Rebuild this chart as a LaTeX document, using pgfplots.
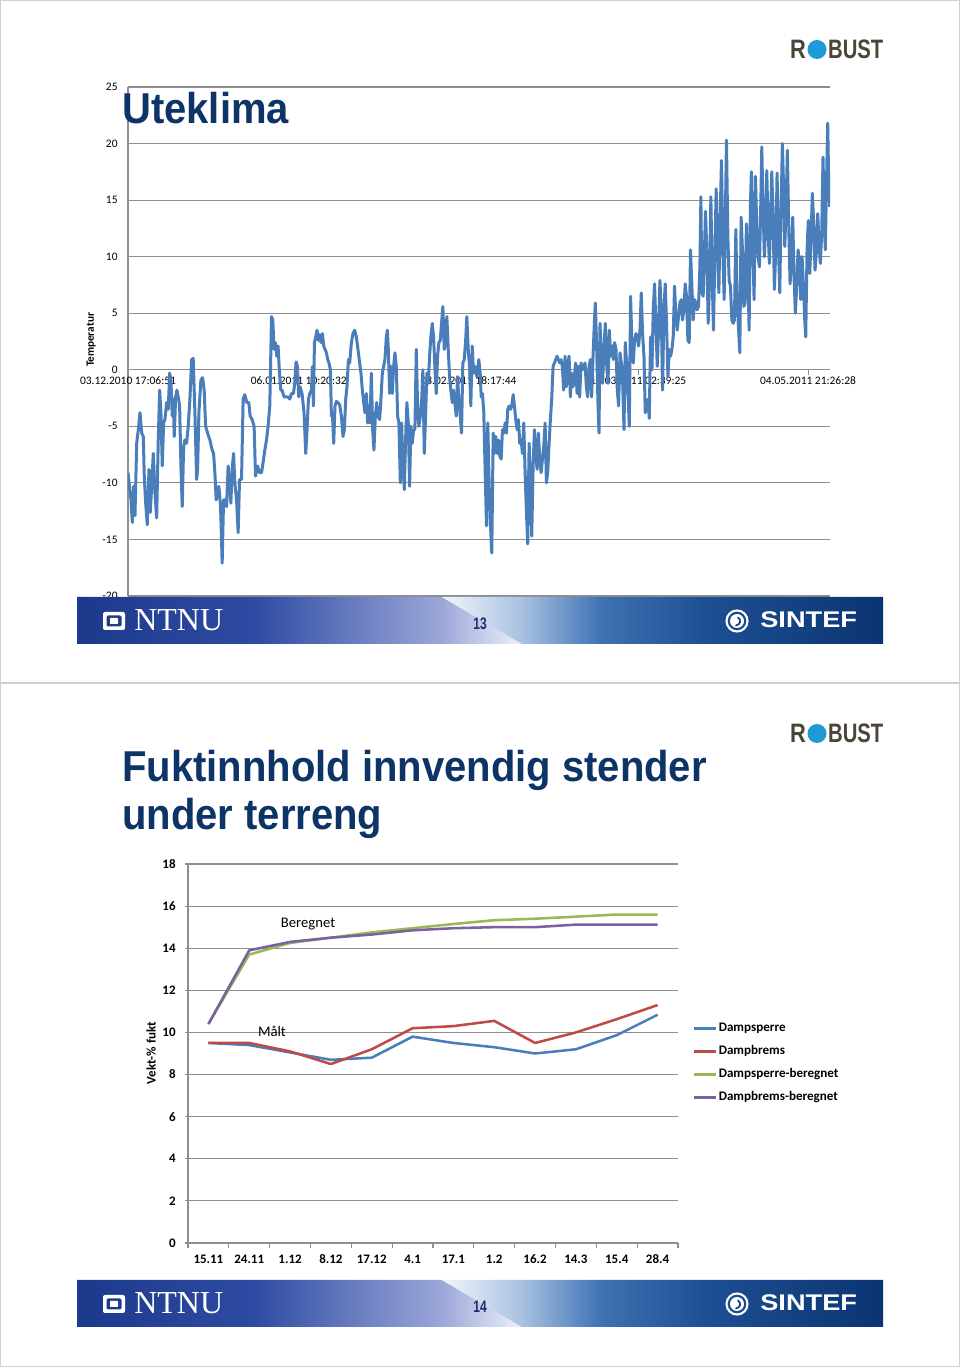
\documentclass[border=0pt]{standalone}
\usepackage{fontspec}
\setmainfont{Carlito}
\newfontfamily\arialf{Liberation Sans}
\newfontfamily\seriff{Liberation Serif}
\usepackage{pgfplots}
\usepackage{pgfplotstable}
\pgfplotsset{compat=1.18}

\definecolor{titleblue}{HTML}{0C3466}
\definecolor{axgray}{HTML}{8E8E8E}
\definecolor{serblue}{HTML}{4A7EBB}
\definecolor{serred}{HTML}{BE4B48}
\definecolor{sergreen}{HTML}{98B954}
\definecolor{serpurple}{HTML}{7D60A0}
\definecolor{robustgray}{HTML}{4A4538}
\definecolor{robustblue}{HTML}{1E9BD7}
\definecolor{numnavy}{HTML}{1B2D6B}
\definecolor{ntnuicon}{HTML}{1F3C8C}
\definecolor{sintefnavy}{HTML}{123C7C}
\definecolor{slideborder}{HTML}{D0D0D0}
\definecolor{Lone}{HTML}{1C3A8C}
\definecolor{Ltwo}{HTML}{2E4BA3}
\definecolor{Lthree}{HTML}{9CA7D9}
\definecolor{Lfour}{HTML}{EEF1FA}
\definecolor{Rzero}{HTML}{F2F6FC}
\definecolor{Rone}{HTML}{A8C2E2}
\definecolor{Rtwo}{HTML}{3F72B3}
\definecolor{Rthree}{HTML}{1D4F93}
\definecolor{Rfour}{HTML}{0B3472}

\pgfdeclarehorizontalshading{ntnuleft}{100bp}{color(0bp)=(Lone); color(25bp)=(Lone); color(45bp)=(Ltwo); color(66bp)=(Lthree); color(75bp)=(Lfour); color(100bp)=(Lfour)}
\pgfdeclarehorizontalshading{ntnuright}{100bp}{color(0bp)=(Rzero); color(25bp)=(Rzero); color(34bp)=(Rone); color(43bp)=(Rtwo); color(55bp)=(Rthree); color(75bp)=(Rfour); color(100bp)=(Rfour)}

\newcommand{\footerband}[2]{%
\begin{scope}[shift={(0,#1)}]
\shade[shading=ntnuleft] (77,0) -- (442,0) -- (522,-47) -- (77,-47) -- cycle;
\shade[shading=ntnuright] (442,0) -- (883,0) -- (883,-47) -- (522,-47) -- cycle;
\fill[white, rounded corners=1.5pt] (103,-15) rectangle (125,-33);
\fill[ntnuicon, rounded corners=1pt] (106.5,-18.5) rectangle (121.5,-29.5);
\fill[white, rounded corners=0.5pt] (110,-21) rectangle (118,-27);
\node[anchor=base west, inner sep=0, text=white, font=\seriff\fontsize{24}{24}\selectfont] at (134,-34) {NTNU};
\node[inner sep=0, text=numnavy, font=\arialf\bfseries\fontsize{12.5}{12.5}\selectfont, xscale=0.72] at (480,-27) {#2};
\draw[white, line width=1.6pt] (737,-24) circle (10.5);
\fill[white] (737,-24) circle (7);
\draw[sintefnavy, line width=1.3pt, line cap=round] (738,-20.5) .. controls (741.5,-23) and (740.5,-27.5) .. (736,-28.5);
\node[anchor=base west, inner sep=0, text=white, font=\arialf\bfseries\fontsize{17}{17}\selectfont, xscale=1.2] at (760,-31) {SINTEF};
\end{scope}}

\newcommand{\robustlogo}[1]{%
\begin{scope}[shift={(0,#1)}]
\node[anchor=base west, inner sep=0, text=robustgray, font=\arialf\bfseries\fontsize{20}{20}\selectfont, xscale=0.82] at (790,0) {R};
\fill[robustblue] (817,9.5) circle (9.5);
\node[anchor=base west, inner sep=0, text=robustgray, font=\arialf\bfseries\fontsize{20}{20}\selectfont, xscale=0.76] at (828,0) {BUST};
\end{scope}}

\pgfplotstableread{
x y
0 -9.1
3.0 -11.5
4.3 -13.5
5.7 -10.3
7.0 -12.9
8.7 -6.5
10.3 -5.3
12.0 -3.8
13.7 -5.6
15.3 -5.9
16.3 -9.4
17.7 -11.8
19.3 -13.7
21.0 -8.8
22.3 -12.6
23.7 -10.3
25.3 -7.4
27.0 -10.9
28.7 -13.1
30.3 -6.2
31.7 -1.8
33.0 -3.8
34.3 -8.5
35.7 -4.7
37.0 -4.4
38.7 -2.9
40.3 -3.5
41.7 -0.3
43.0 -0.9
44.3 -4.1
45.3 -2.6
46.3 -5.9
47.7 -2.4
49.0 -1.8
50.3 -2.4
51.7 -3.2
53.0 -8.5
54.3 -12.1
55.7 -6.8
57.0 -6.2
58.7 -6.5
60.3 -5.0
62.0 -2.6
63.7 0.9
65.3 1.0
67.0 -3.8
68.7 -9.7
69.7 -8.8
71.0 -3.8
73.0 -0.9
74.7 -0.7
76.3 -1.8
77.7 -5.0
79.7 -5.6
82.0 -6.2
84.3 -7.1
85.7 -7.4
87.0 -9.1
88.3 -11.5
89.7 -10.9
91.0 -10.3
92.7 -12.1
94.3 -17.1
95.7 -11.5
97.0 -11.5
98.7 -12.1
100.3 -8.5
101.7 -10.3
103.0 -11.8
104.3 -8.8
105.7 -7.4
107.0 -10.0
108.7 -11.5
110.3 -14.4
111.7 -9.7
113.7 -9.7
115.3 -2.6
117.0 -2.2
119.0 -2.9
121.0 -2.9
122.3 -4.1
124.3 -4.4
126.3 -5.0
127.7 -9.4
129.7 -8.5
131.7 -9.1
133.7 -9.1
135.3 -8.2
137.0 -7.1
138.7 -6.2
140.3 -5.0
142.0 -3.2
143.7 4.7
145.0 4.4
146.3 1.8
147.7 2.4
149.0 1.2
150.3 2.1
151.7 -0.3
153.0 -1.8
154.3 -1.8
156.3 -2.4
158.3 -2.4
160.3 -2.4
162.0 -2.6
163.7 -2.1
165.7 -2.1
167.0 -1.2
168.3 0.7
169.7 0.3
171.0 -2.4
172.3 -1.5
174.3 -2.1
176.3 -3.8
177.0 -5.3
178.0 -7.4
179.3 -5.3
180.7 -2.6
182.0 -2.1
183.7 -1.8
184.7 0.3
185.7 -3.2
186.7 2.4
188.0 2.9
189.3 3.5
190.7 2.6
192.0 3.1
193.3 2.4
194.7 3.2
196.0 2.1
197.3 1.8
198.7 1.5
200.0 0.9
201.3 0.6
202.7 0.0
203.7 -4.1
204.7 -3.8
206.0 -6.5
207.3 -3.2
208.7 -2.8
210.3 -2.9
212.0 -3.1
213.7 -4.1
215.3 -5.9
216.7 -5.3
218.0 -2.6
219.3 -1.5
220.7 0.9
222.0 0.6
223.7 2.4
225.3 3.2
227.0 3.5
228.7 2.9
230.3 1.8
232.0 0.6
233.3 -0.3
234.7 -1.8
236.0 -2.9
237.3 -3.8
238.7 -2.1
240.0 -4.7
241.0 -3.2
242.3 -4.7
243.7 -0.3
245.0 -5.3
246.3 -7.1
247.7 -4.1
249.0 -2.9
250.3 -4.1
252.0 -4.4
253.3 -2.6
254.7 -0.3
256.0 0.3
257.3 0.9
258.7 2.9
259.7 3.5
260.7 1.8
262.0 -2.1
263.3 0.3
264.7 -2.1
266.0 0.3
267.3 1.5
268.7 0.3
270.0 -4.1
271.3 -4.7
272.7 -10.0
274.0 -4.7
275.3 -8.2
276.7 -10.6
278.0 -6.2
279.3 -2.9
280.7 -4.7
282.0 -10.3
283.3 -5.0
284.7 -6.5
286.0 -5.3
287.3 -5.3
288.7 1.8
290.0 -3.2
291.3 -5.0
292.7 -4.1
294.0 -2.9
295.3 0.0
296.7 -7.4
298.0 -4.1
299.3 -0.3
300.7 -1.2
302.0 1.2
303.3 2.9
304.7 4.1
306.0 2.9
307.3 0.3
308.7 -2.1
310.0 1.2
311.3 2.4
312.7 2.6
314.0 4.1
315.3 5.6
316.7 1.8
318.0 2.4
319.3 4.7
320.7 1.8
322.0 -0.6
323.3 -1.8
324.7 -2.9
326.0 -1.8
327.3 -2.9
328.7 -4.1
330.0 -0.6
331.3 -2.6
332.7 -4.1
334.0 -5.6
335.3 0.6
336.7 0.9
338.0 2.4
339.3 4.7
340.7 1.8
342.0 0.3
343.3 -3.2
344.7 2.1
346.0 -0.3
347.3 0.3
349.3 -0.6
351.3 0.9
352.7 -0.3
353.7 -2.4
355.0 -2.1
356.3 -3.8
357.7 -9.1
359.0 -13.8
360.3 -4.7
361.7 -10.3
363.0 -13.8
364.3 -16.2
365.7 -5.6
367.0 -7.4
368.3 -5.9
369.7 -7.4
371.0 -6.2
372.3 -7.6
373.7 -7.9
375.0 -5.3
376.3 -5.6
377.7 -4.7
379.0 -5.6
380.3 -3.5
381.7 -3.2
383.0 -3.5
384.3 -3.2
385.7 -2.2
387.0 -3.2
388.3 -4.4
389.7 -5.3
391.0 -4.4
392.3 -6.5
393.7 -6.2
395.0 -7.4
396.3 -4.7
397.7 -9.1
399.0 -12.6
400.3 -15.4
401.7 -6.5
403.0 -9.7
404.3 -14.7
405.7 -8.5
407.0 -5.3
408.3 -7.4
409.7 -8.8
411.0 -5.6
412.3 -7.9
413.7 -9.1
415.0 -7.9
416.3 -6.8
417.7 -4.7
419.0 -10.0
420.3 -9.1
421.7 -6.5
423.0 -4.4
424.3 -2.6
425.7 0.3
427.0 0.6
428.3 0.9
429.7 1.2
431.0 0.9
432.3 0.6
433.7 0.9
435.0 0.3
436.3 -1.8
437.7 1.2
439.0 -1.5
440.3 0.3
441.7 1.2
443.0 -2.4
444.3 -0.3
445.7 -1.5
447.0 -0.6
448.3 0.6
449.7 -2.1
451.0 0.3
452.3 -2.4
453.7 0.6
455.0 0.0
456.3 0.3
457.7 0.6
459.0 -1.5
460.3 -2.4
461.7 0.3
463.0 0.9
464.3 -2.4
465.7 1.2
467.0 4.1
468.0 5.9
469.3 2.1
470.7 -3.2
471.7 -5.6
472.7 4.1
474.0 0.9
475.3 -1.2
476.7 2.1
478.0 4.1
479.3 0.6
480.7 -1.2
482.0 3.5
483.3 1.2
484.7 2.1
486.0 0.9
487.3 2.4
488.7 1.8
490.0 -1.8
491.3 -3.2
492.7 1.5
494.0 0.6
495.3 -0.9
496.7 -5.3
498.0 2.4
499.3 0.6
500.7 -2.1
502.0 -5.0
503.3 6.5
504.7 2.1
506.0 0.6
507.3 2.6
508.7 3.2
510.0 2.9
511.3 2.1
512.7 3.5
514.0 6.8
515.3 3.2
516.7 1.2
518.0 -3.8
519.3 -3.2
520.7 -2.6
522.0 -4.3
523.3 2.9
524.7 0.0
526.0 5.3
527.3 7.6
528.7 3.8
530.0 0.3
531.3 3.5
532.7 7.9
534.0 5.3
535.3 -1.8
536.7 5.3
538.0 7.6
539.3 4.1
540.7 -0.6
542.0 1.8
543.3 1.2
544.7 1.8
546.0 2.9
547.3 7.4
548.7 4.7
550.0 3.5
551.3 4.7
552.7 5.9
554.0 6.2
555.3 4.4
556.7 5.3
558.0 7.6
559.3 6.5
560.7 2.6
562.0 2.4
563.3 10.6
564.7 7.4
566.0 4.4
567.3 6.2
568.7 5.9
570.0 5.3
571.3 5.6
572.7 9.1
573.7 15.3
574.7 6.8
576.0 6.5
577.3 10.6
578.3 14.0
579.7 10.3
581.0 4.1
582.3 7.6
583.7 15.3
585.0 8.2
586.3 3.5
587.7 10.3
589.0 16.0
590.3 11.2
591.7 6.8
593.0 13.5
594.3 18.5
595.7 10.6
597.0 6.2
598.3 14.1
599.3 20.3
600.7 11.8
602.0 7.9
603.3 7.4
604.7 4.4
606.0 4.1
607.3 4.4
608.7 12.4
610.0 6.2
611.3 3.8
612.7 1.5
614.0 13.5
615.3 10.6
616.7 5.6
618.0 5.9
619.3 12.9
620.7 9.1
622.0 3.5
623.3 14.7
624.3 17.5
625.7 10.6
627.0 6.2
628.3 17.1
629.7 12.6
631.0 10.0
632.3 9.1
633.7 14.7
634.7 19.7
636.0 14.1
637.3 10.0
638.7 13.2
639.7 17.6
641.0 12.4
642.3 9.4
643.7 14.1
644.7 17.5
646.0 13.5
647.3 7.1
648.7 10.6
650.0 17.4
651.3 11.2
652.7 6.8
654.0 14.1
655.3 20.0
656.7 15.6
657.7 10.9
659.0 14.1
660.3 19.4
661.7 12.6
663.0 7.6
664.3 9.4
665.7 13.5
667.0 8.2
668.3 5.0
669.7 7.4
671.0 10.6
672.3 9.7
673.7 6.2
675.0 10.0
676.3 7.6
677.7 4.4
678.7 2.9
680.0 10.6
681.3 13.2
682.7 8.5
684.0 11.5
685.3 15.6
686.7 12.9
688.0 8.8
689.3 10.3
690.7 13.8
692.0 11.2
693.3 9.4
694.7 12.1
696.0 18.8
697.3 12.9
698.3 10.6
699.3 15.6
700.7 21.8
701.7 16.5
702.7 14.4
}\tempdata

\pgfplotstableread{
i ds db dsb dbb
0 9.5 9.5 10.4 10.4
1 9.4 9.5 13.7 13.9
2 9.05 9.1 14.25 14.3
3 8.7 8.5 14.5 14.5
4 8.8 9.2 14.75 14.65
5 9.8 10.2 14.95 14.85
6 9.5 10.3 15.15 14.95
7 9.3 10.55 15.33 15.0
8 9.0 9.5 15.4 15.0
9 9.2 10.0 15.5 15.12
10 9.87 10.63 15.6 15.12
11 10.84 11.3 15.6 15.12
}\fukt

\begin{document}
\begin{tikzpicture}[x=0.75pt,y=0.75pt]
\useasboundingbox (0,0) rectangle (960,1367);
\fill[white] (0,0) rectangle (960,1367);
\draw[slideborder, line width=0.75pt] (0.5,684.5) rectangle (959.5,1366.5);
\draw[slideborder, line width=0.75pt] (0.5,0.5) rectangle (959.5,683.5);

% ---------------- top slide ----------------
\begin{axis}[
  at={(96pt,578.25pt)}, anchor=south west, scale only axis,
  width=526.5pt, height=381.75pt,
  xmin=0, xmax=703, ymin=-20, ymax=25,
  ytick={-20,-15,...,25},
  xtick={0,171,341,511,681},
  xticklabels={03.12.2010 17:06:51,06.01.2011 10:20:32,08.02.2011 18:17:44,14.03.2011 02:39:25,04.05.2011 21:26:28},
  axis x line*=bottom, axis y line*=left, separate axis lines,
  x axis line style={draw=none},
  y axis line style={draw=axgray, line width=0.8pt},
  xtick style={draw=none}, ytick style={draw=none},
  ymajorgrids, grid style={axgray, line width=0.8pt},
  tick label style={font=\fontsize{8.6}{9.5}\selectfont},
  /pgf/number format/assume math mode=true,
  xticklabel style={anchor=north, yshift=168pt},
  yticklabel style={xshift=-4.25pt},
]
\addplot[serblue, line width=2.25pt, line join=round, no markers] table[x=x, y=y] {\tempdata};
\draw[axgray, line width=0.75pt] (axis cs:171,0) -- ++(0pt,-3.75pt);
\draw[axgray, line width=0.75pt] (axis cs:341,0) -- ++(0pt,-3.75pt);
\draw[axgray, line width=0.75pt] (axis cs:511,0) -- ++(0pt,-3.75pt);
\draw[axgray, line width=0.75pt] (axis cs:681,0) -- ++(0pt,-3.75pt);
\end{axis}
\node[rotate=90, inner sep=0, font=\bfseries\fontsize{8.4}{9}\selectfont] at (91,1027) {Temperatur};
\node[anchor=base west, inner sep=0, text=titleblue, font=\arialf\bfseries\fontsize{30}{30}\selectfont, yscale=1.08] at (122,1243.5) {Uteklima};
\robustlogo{1308}
\footerband{770}{13}

% ---------------- bottom slide ----------------
\node[anchor=base west, inner sep=0, text=titleblue, font=\arialf\bfseries\fontsize{30}{30}\selectfont, yscale=1.08] at (122,585) {Fuktinnhold innvendig stender};
\node[anchor=base west, inner sep=0, text=titleblue, font=\arialf\bfseries\fontsize{30}{30}\selectfont, yscale=1.08] at (122,537) {under terreng};
\robustlogo{624}

\begin{axis}[
  at={(141pt,93pt)}, anchor=south west, scale only axis,
  width=367.5pt, height=284.25pt,
  xmin=-0.5, xmax=11.5, ymin=0, ymax=18,
  ytick={0,2,...,18},
  xtick={0,...,11},
  xticklabels={15.11,24.11,1.12,8.12,17.12,4.1,17.1,1.2,16.2,14.3,15.4,28.4},
  minor xtick={-0.5,0.5,...,11.5},
  axis x line*=bottom, axis y line*=left, separate axis lines,
  axis line style={draw=axgray, line width=0.8pt},
  tick pos=left, tick align=outside,
  major tick length=2.25pt, minor tick length=3.75pt,
  major x tick style={draw=none},
  minor x tick style={axgray, line width=0.8pt},
  major y tick style={axgray, line width=0.8pt},
  ymajorgrids, grid style={axgray, line width=0.8pt},
  tick label style={font=\bfseries\fontsize{9.75}{11}\selectfont},
  /pgf/number format/assume math mode=true,
  xticklabel style={anchor=north, text height=7pt, text depth=1pt, yshift=-2.75pt},
  yticklabel style={xshift=-3.5pt},
  legend cell align=left,
  legend style={at={(1,0.5865)}, anchor=north west, xshift=11pt, draw=none, fill=none,
    inner sep=0pt, row sep=6.25pt,
    nodes={inner sep=1pt, text height=7pt, text depth=2pt, font=\bfseries\fontsize{9.8}{10}\selectfont}},
  legend image code/.code={\draw[#1] (0pt,0pt) -- (16.5pt,0pt);},
]
\addplot[serblue, line width=1.9pt, line join=round, no markers] table[x=i, y=ds] {\fukt};
\addlegendentry{Dampsperre}
\addplot[serred, line width=1.9pt, line join=round, no markers] table[x=i, y=db] {\fukt};
\addlegendentry{Dampbrems}
\addplot[sergreen, line width=1.9pt, line join=round, no markers] table[x=i, y=dsb] {\fukt};
\addlegendentry{Dampsperre-beregnet}
\addplot[serpurple, line width=1.9pt, line join=round, no markers] table[x=i, y=dbb] {\fukt};
\addlegendentry{Dampbrems-beregnet}
\node[font=\fontsize{11}{12}\selectfont, inner sep=0] at (axis cs:2.44,15.15) {Beregnet};
\node[font=\fontsize{11}{12}\selectfont, inner sep=0] at (axis cs:1.557,10.07) {Målt};
\end{axis}
\node[rotate=90, inner sep=0, font=\bfseries\fontsize{9.75}{11}\selectfont] at (151,314) {Vekt-\% fukt};
\footerband{87}{14}
\end{tikzpicture}
\end{document}
